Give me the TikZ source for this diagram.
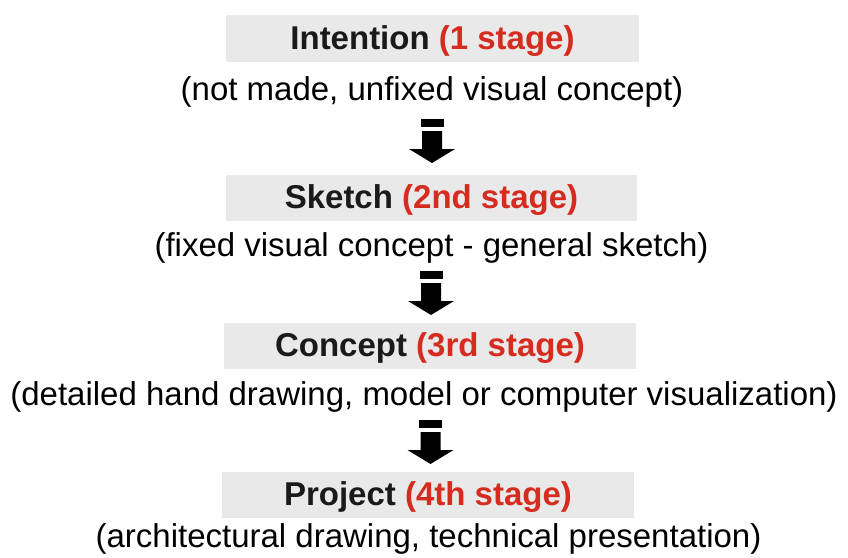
\documentclass[tikz,border=0pt]{standalone}
\usepackage{fontspec}
\setmainfont{Liberation Sans}
\definecolor{stagered}{HTML}{D62B1F}
\definecolor{boxgray}{HTML}{E9E9E9}
\definecolor{inkdark}{HTML}{1A1A1A}
\begin{document}
\begin{tikzpicture}[x=1pt,y=-1pt,
  stagebox/.style={rectangle, fill=boxgray, inner sep=0pt, minimum height=46.5pt,
    text height=24pt, text depth=3pt, font=\fontsize{33}{40}\selectfont\bfseries, text=inkdark},
  subline/.style={anchor=base, inner sep=0pt, font=\fontsize{33}{40}\selectfont, text=black},
  stagearrow/.pic={
    \fill[black] (-11.5,0) rectangle (11.5,8);
    \fill[black] (-10,12) -- (10,12) -- (10,30) -- (23,30) -- (0,44) -- (-23,30) -- (-10,30) -- cycle;
  }]
\useasboundingbox (0,0) rectangle (848,557);
\fill[white] (0,0) rectangle (848,557);

\node[stagebox, minimum width=413pt] (s1) at (432.5,38.5) {Intention \textcolor{stagered}{(1 stage)}};
\node[subline] (d1) at (432,100) {(not made, unfixed visual concept)};
\pic (a1) at (432,119) {stagearrow};

\node[stagebox, minimum width=411pt] (s2) at (431.5,198) {Sketch \textcolor{stagered}{(2nd stage)}};
\node[subline] (d2) at (431.5,256) {(fixed visual concept - general sketch)};
\pic (a2) at (431,271) {stagearrow};

\node[stagebox, minimum width=412pt] (s3) at (430,346) {Concept \textcolor{stagered}{(3rd stage)}};
\node[subline] (d3) at (424,405) {(detailed hand drawing, model or computer visualization)};
\pic (a3) at (430.5,420) {stagearrow};

\node[stagebox, minimum width=412pt] (s4) at (428,495) {Project \textcolor{stagered}{(4th stage)}};
\node[subline] (d4) at (428.5,547.5) {(architectural drawing, technical presentation)};
\end{tikzpicture}
\end{document}
